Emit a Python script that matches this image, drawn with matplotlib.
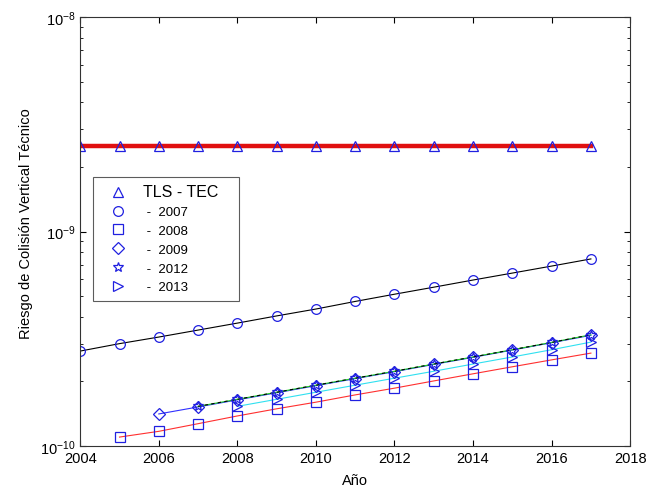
import matplotlib
matplotlib.use("Agg")
from matplotlib import pyplot as plt

plt.rcParams['font.family'] = ['Liberation Sans', 'DejaVu Sans']

# data
years_tls = [2004, 2005, 2006, 2007, 2008, 2009, 2010, 2011, 2012, 2013, 2014, 2015, 2016, 2017]
tls = [2.5e-9] * len(years_tls)

years_2007 = [2004, 2005, 2006, 2007, 2008, 2009, 2010, 2011, 2012, 2013, 2014, 2015, 2016, 2017]
r_2007 = [2.77e-10, 3.00e-10, 3.22e-10, 3.47e-10, 3.74e-10, 4.04e-10, 4.35e-10,
          4.72e-10, 5.10e-10, 5.50e-10, 5.94e-10, 6.40e-10, 6.90e-10, 7.45e-10]

years_2008 = [2005, 2006, 2007, 2008, 2009, 2010, 2011, 2012, 2013, 2014, 2015, 2016, 2017]
r_2008 = [1.10e-10, 1.17e-10, 1.27e-10, 1.38e-10, 1.49e-10, 1.60e-10, 1.73e-10,
          1.86e-10, 2.01e-10, 2.17e-10, 2.34e-10, 2.52e-10, 2.71e-10]

years_2009 = [2006, 2007, 2008, 2009, 2010, 2011, 2012, 2013, 2014, 2015, 2016, 2017]
r_2009 = [1.41e-10, 1.52e-10, 1.64e-10, 1.77e-10, 1.91e-10, 2.06e-10, 2.22e-10,
          2.40e-10, 2.59e-10, 2.80e-10, 3.03e-10, 3.28e-10]

years_2012 = [2007, 2008, 2009, 2010, 2011, 2012, 2013, 2014, 2015, 2016, 2017]
r_2012 = [1.53e-10, 1.65e-10, 1.78e-10, 1.92e-10, 2.07e-10, 2.23e-10, 2.41e-10,
          2.60e-10, 2.81e-10, 3.04e-10, 3.30e-10]

years_2013 = [2008, 2009, 2010, 2011, 2012, 2013, 2014, 2015, 2016, 2017]
r_2013 = [1.53e-10, 1.65e-10, 1.78e-10, 1.92e-10, 2.07e-10, 2.23e-10, 2.41e-10,
          2.60e-10, 2.81e-10, 3.05e-10]

fig = plt.figure(figsize=(6.47, 4.89), dpi=100)
ax = fig.add_axes([0.124, 0.086, 0.850, 0.877])

mk = dict(mfc='none', mec='#2020e0', mew=0.9, ms=7, ls='none')

# lines
ax.plot(years_tls, tls, color='#e01010', lw=3.2)
ax.plot(years_2007, r_2007, color='black', lw=0.8)
ax.plot(years_2008, r_2008, color='#ff3030', lw=0.8)
ax.plot(years_2009, r_2009, color='#3030ff', lw=0.8)
ax.plot(years_2012, r_2012, color='#20d020', lw=0.8)
ax.plot(years_2012, r_2012, color='black', lw=0.8, ls=(0, (3, 3)))
ax.plot(years_2013, r_2013, color='#30e0f0', lw=0.8)

# markers
ax.plot(years_tls, tls, marker='^', label='TLS - TEC   ', **mk)
ax.plot(years_2007, r_2007, marker='o', label=' -  2007', **mk)
ax.plot(years_2008, r_2008, marker='s', label=' -  2008', **mk)
ax.plot(years_2009, r_2009, marker='D', label=' -  2009', **{**mk, 'ms': 6})
ax.plot(years_2012, r_2012, marker='*', label=' -  2012', **mk)
ax.plot(years_2013, r_2013, marker='>', label=' -  2013', **mk)

ax.set_yscale('log')
ax.set_xlim(2004, 2018)
ax.set_ylim(1e-10, 1e-8)
ax.set_xticks(range(2004, 2019, 2))
ax.tick_params(which='both', direction='in', top=True, right=True, labelsize=10.5)
ax.tick_params(which='major', length=4)
ax.tick_params(which='minor', length=2.5)
for s in ax.spines.values():
    s.set_linewidth(0.8)
    s.set_color('#333333')

ax.set_xlabel('Año', fontsize=10.5)
ax.xaxis.set_label_coords(0.5, -0.062)
ax.set_ylabel('Riesgo de Colisión Vertical Técnico', fontsize=10.5)
ax.yaxis.set_label_coords(-0.085, 0.52)

leg = ax.legend(loc='upper left', bbox_to_anchor=(0.024, 0.627), borderaxespad=0,
                fancybox=False, edgecolor='#333333', fontsize=9.5, handletextpad=0.6,
                labelspacing=0.5, handlelength=2.6, borderpad=0.55)
leg.get_frame().set_linewidth(0.8)
leg.get_texts()[0].set_fontsize(11.5)

fig.savefig('out.png', dpi=100)
